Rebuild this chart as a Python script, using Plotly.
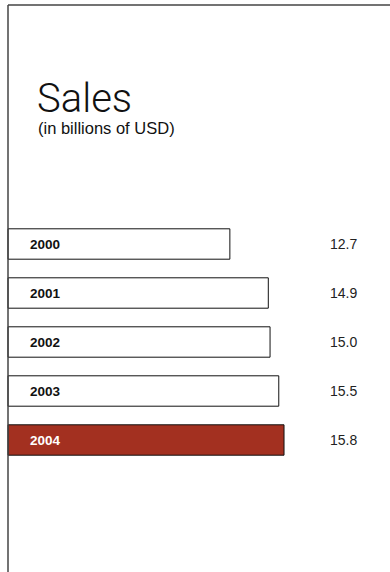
import plotly.graph_objects as go

years = ["2000", "2001", "2002", "2003", "2004"]
sales = [12.7, 14.9, 15.0, 15.5, 15.8]
fills = ["#ffffff", "#ffffff", "#ffffff", "#ffffff", "#a33020"]
label_colors = ["#111111", "#111111", "#111111", "#111111", "#ffffff"]

W, H = 390, 572
X0 = 8           # pixel where zero lies
PX_PER_UNIT = 17.47
FIRST_C = 244    # pixel center of first bar
STEP = 49

FONT = "Liberation Sans, Arial, sans-serif"
TFONT = "Roboto, Liberation Sans, sans-serif"

fig = go.Figure()
fig.add_trace(go.Bar(
    y=list(range(len(years))), x=sales, orientation="h",
    marker=dict(color=fills, line=dict(color="#111111", width=1)),
    width=0.62, hoverinfo="skip",
))

annotations = []
for i, (yr, v, c) in enumerate(zip(years, sales, label_colors)):
    annotations.append(dict(x=28 / W, xref="paper", y=i, yref="y", text=f"<b>{yr}</b>",
                            showarrow=False, xanchor="left", yanchor="middle",
                            font=dict(family=FONT, size=13.5, color=c)))
    annotations.append(dict(x=328 / W, xref="paper", y=i, yref="y", text=f"{v:.1f}",
                            showarrow=False, xanchor="left", yanchor="middle",
                            font=dict(family=FONT, size=14, color="#222222")))

annotations.append(dict(x=36 / W, xref="paper", y=1 - 79 / H, yref="paper", text="Sales",
                        showarrow=False, xanchor="left", yanchor="top", height=36,
                        valign="middle", borderpad=0,
                        font=dict(family=TFONT, size=40, color="#111111", weight=300)))
annotations.append(dict(x=37 / W, xref="paper", y=1 - 118 / H, yref="paper", text="(in billions of USD)",
                        showarrow=False, xanchor="left", yanchor="top", borderpad=0,
                        font=dict(family=FONT, size=16.5, color="#111111")))

y_top = (0 - FIRST_C) / STEP
y_bot = (H - FIRST_C) / STEP

fig.update_layout(
    width=W, height=H,
    margin=dict(l=0, r=0, t=0, b=0),
    paper_bgcolor="white", plot_bgcolor="white",
    showlegend=False,
    xaxis=dict(range=[-X0 / PX_PER_UNIT, (W - X0) / PX_PER_UNIT], visible=False, fixedrange=True),
    yaxis=dict(range=[y_bot, y_top], visible=False, fixedrange=True),
    annotations=annotations,
    shapes=[
        dict(type="line", xref="paper", yref="paper", x0=X0 / W, x1=1, y0=1 - 5 / H, y1=1 - 5 / H,
             line=dict(color="#444444", width=1.5)),
        dict(type="line", xref="paper", yref="paper", x0=X0 / W, x1=X0 / W, y0=0, y1=1 - 5 / H,
             line=dict(color="#444444", width=1.5)),
    ],
)

fig.write_html("out.html")
